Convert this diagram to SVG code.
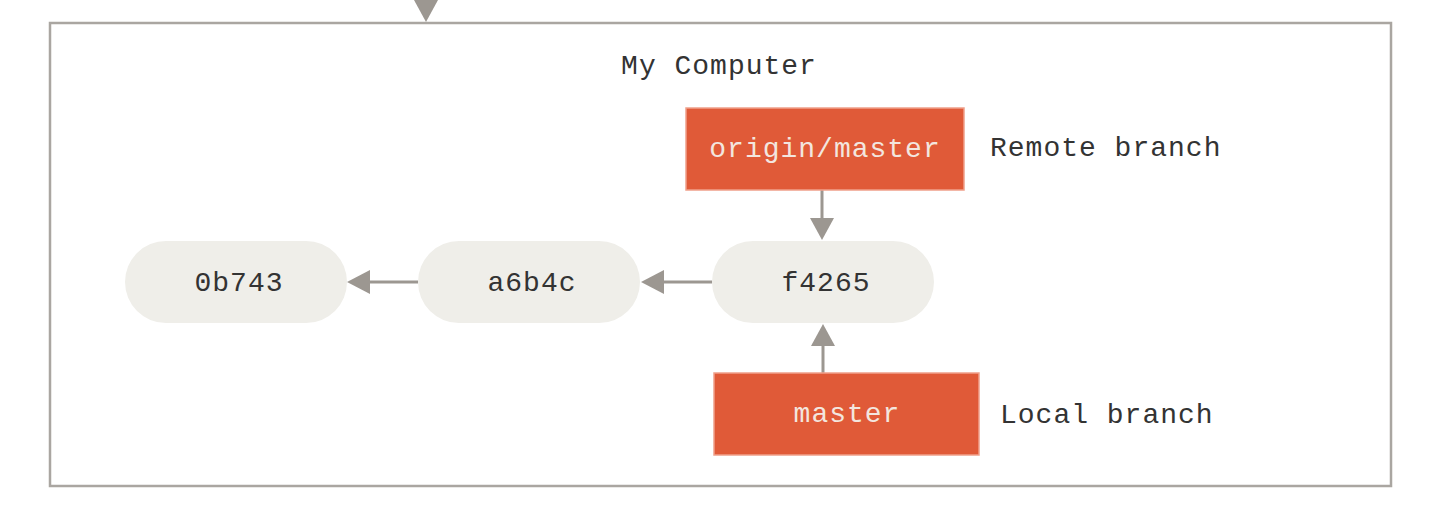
<svg xmlns="http://www.w3.org/2000/svg" width="1440" height="508" viewBox="0 0 1440 508">
<style>
.t{font-family:"Liberation Mono","DejaVu Sans Mono",monospace;font-size:28px;letter-spacing:1px;fill:#333;text-anchor:middle;dominant-baseline:central}
.l{font-family:"Liberation Mono","DejaVu Sans Mono",monospace;font-size:28px;letter-spacing:1px;fill:#333;dominant-baseline:central}
.w{fill:#f3e6df}
.commit{fill:#efeee9}
.branch{fill:#e05a38;stroke:#f0a08a;stroke-width:1.5}
.c{stroke:#9c9791;stroke-width:3;fill:none}
</style>
<rect width="1440" height="508" fill="#fff"/>
<g id="my-computer">
<rect x="50" y="23" width="1341" height="463" fill="none" stroke="#aaa6a1" stroke-width="2.5"/>
<text class="t" x="719" y="66">My Computer</text>
</g>
<g id="connectors">
<path d="M414,0 L438,0 L426,22 z" fill="#9c9791"/>
<line class="c" x1="418" y1="282" x2="368" y2="282"/>
<path d="M347,282 L370,270 L370,294 z" fill="#9c9791"/>
<line class="c" x1="712" y1="282" x2="662" y2="282"/>
<path d="M641,282 L664,270 L664,294 z" fill="#9c9791"/>
<line class="c" x1="822" y1="190" x2="822" y2="220"/>
<path d="M822,240 L810,218 L834,218 z" fill="#9c9791"/>
<line class="c" x1="823" y1="373" x2="823" y2="344"/>
<path d="M823,324 L811,346 L835,346 z" fill="#9c9791"/>
</g>
<g id="c0b743">
<rect class="commit" x="125" y="241" width="222" height="82" rx="41"/>
<text class="t" x="239" y="283">0b743</text>
</g>
<g id="ca6b4c">
<rect class="commit" x="418" y="241" width="222" height="82" rx="41"/>
<text class="t" x="532" y="283">a6b4c</text>
</g>
<g id="cf4265">
<rect class="commit" x="712" y="241" width="222" height="82" rx="41"/>
<text class="t" x="826" y="283">f4265</text>
</g>
<g id="origin-master">
<rect class="branch" x="686" y="108" width="278" height="82"/>
<text class="t w" x="825" y="149">origin/master</text>
</g>
<g id="master">
<rect class="branch" x="714" y="373" width="265" height="82"/>
<text class="t w" x="847" y="414">master</text>
</g>
<g id="labels">
<text class="l" x="990" y="148">Remote branch</text>
<text class="l" x="1000" y="415">Local branch</text>
</g>
</svg>
